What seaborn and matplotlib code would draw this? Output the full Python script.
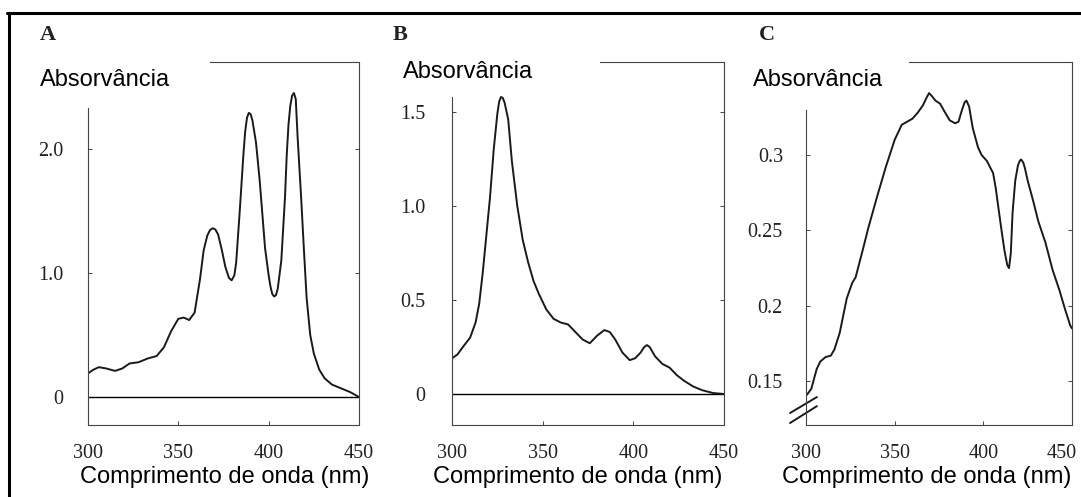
import numpy as np
import pandas as pd
import matplotlib
matplotlib.use("Agg")
import matplotlib.pyplot as plt
from matplotlib.lines import Line2D
from matplotlib.transforms import ScaledTranslation
import seaborn as sns

# ---------------- data ----------------
wl_a = [300, 303, 306, 310, 315, 319, 323, 328, 333, 338, 342, 346, 350, 353, 356,
        359, 362, 364, 366, 367.5, 369, 370.5, 372, 374, 376, 378, 379.5, 381, 382, 384, 386, 387, 388, 389,
        390, 391, 393, 395, 398, 400, 401, 402, 403, 404, 405, 407, 409, 410, 411, 412, 413, 414, 415, 416,
        418, 419.5, 421, 423, 425, 428, 431, 435, 440, 445, 450]
abs_a = [0.19, 0.22, 0.24, 0.23, 0.21, 0.23, 0.27, 0.28, 0.31, 0.33, 0.40, 0.53, 0.63, 0.64, 0.62,
         0.68, 0.95, 1.18, 1.30, 1.345, 1.36, 1.35, 1.31, 1.19, 1.05, 0.96, 0.94, 0.98, 1.08, 1.50, 1.95, 2.14, 2.25, 2.29,
         2.28, 2.23, 2.05, 1.75, 1.20, 0.98, 0.89, 0.83, 0.81, 0.82, 0.87, 1.10, 1.60, 1.95, 2.20, 2.35, 2.43, 2.45, 2.40, 2.10,
         1.60, 1.19, 0.80, 0.50, 0.35, 0.22, 0.15, 0.10, 0.07, 0.04, 0.0]

wl_b = [300, 303, 306, 310, 313, 315, 317, 319, 321, 323, 325, 326, 327, 328, 329, 331, 333,
        336, 339, 342, 345, 348, 352, 356, 360, 364, 368, 372, 376, 380, 384, 387,
        390, 394, 398, 401, 404, 406, 407.5, 409, 412, 416, 420, 424, 428, 433, 438, 444, 450]
abs_b = [0.19, 0.21, 0.25, 0.30, 0.38, 0.48, 0.65, 0.85, 1.05, 1.30, 1.49, 1.555, 1.58, 1.575, 1.55, 1.46, 1.24,
         1.00, 0.82, 0.70, 0.60, 0.53, 0.45, 0.40, 0.38, 0.37, 0.33, 0.29, 0.27, 0.31, 0.34, 0.33,
         0.29, 0.22, 0.18, 0.19, 0.22, 0.25, 0.26, 0.25, 0.20, 0.16, 0.14, 0.10, 0.07, 0.04, 0.02, 0.005, 0.0]

wl_c = [300.5, 303, 306, 308, 311, 314, 316, 319, 323, 326, 328, 332, 335, 340, 345,
        350, 354, 357, 360, 363, 366, 368, 369.4, 371, 373, 375.6, 378, 381, 384, 386, 388, 389.5,
        390.5, 392, 394, 397, 399, 402, 405.5, 407, 408.5, 410.5, 412, 413.5, 414.5, 415.5, 416.5,
        418, 419.5, 420.5, 421.3, 422.5, 423.5, 425, 428, 431, 435, 439, 443, 446, 449, 450]
abs_c = [0.141, 0.145, 0.158, 0.163, 0.166, 0.167, 0.171, 0.182, 0.205, 0.215, 0.219, 0.237, 0.251, 0.272, 0.292,
         0.310, 0.320, 0.322, 0.324, 0.328, 0.333, 0.338, 0.341, 0.339, 0.336, 0.334, 0.329, 0.323, 0.321, 0.322, 0.330, 0.335,
         0.336, 0.332, 0.318, 0.305, 0.300, 0.296, 0.288, 0.278, 0.265, 0.248, 0.236, 0.227, 0.225, 0.235, 0.262,
         0.283, 0.293, 0.296, 0.297, 0.295, 0.291, 0.283, 0.270, 0.256, 0.242, 0.224, 0.210, 0.198, 0.187, 0.185]

panel_letters = ["A", "B", "C"]
x_ticks = [300, 350, 400, 450]
y_ticks_a = [0, 1.0, 2.0]
y_ticklabels_a = ["0", "1.0", "2.0"]
y_ticks_b = [0, 0.5, 1.0, 1.5]
y_ticklabels_b = ["0", "0.5", "1.0", "1.5"]
y_ticks_c = [0.15, 0.2, 0.25, 0.3]
y_ticklabels_c = ["0.15", "0.2", "0.25", "0.3"]
ylabel_text = "Absorvância"
xlabel_text = "Comprimento de onda (nm)"

# ---------------- style ----------------
sns.set_theme(style="ticks")
plt.rcParams["font.family"] = ["Liberation Sans", "DejaVu Sans"]
plt.rcParams["axes.linewidth"] = 0.8

W, H = 1081, 497
fig = plt.figure(figsize=(W / 100, H / 100), dpi=100)
fig.patch.set_facecolor("white")


def ax_rect(x0, x1, y0=62, y1=425):
    return [x0 / W, 1 - y1 / H, (x1 - x0) / W, (y1 - y0) / H]


panels = [
    dict(rect=ax_rect(88, 359), wl=wl_a, ab=abs_a, ylim=(-0.226, 2.70),
         yt=y_ticks_a, ytl=y_ticklabels_a, zero=True, top_from=367.5, left_to=2.33,
         ypad=18, letter_x=-0.177, ylab=(-0.177, 0.950), xlab=0.505, last_shift=0),
    dict(rect=ax_rect(452, 724), wl=wl_b, ab=abs_b, ylim=(-0.165, 1.766),
         yt=y_ticks_b, ytl=y_ticklabels_b, zero=True, top_from=381.6, left_to=1.58,
         ypad=19.4, letter_x=-0.217, ylab=(-0.180, 0.972), xlab=0.463, last_shift=0),
    dict(rect=ax_rect(806, 1072), wl=wl_c, ab=abs_c, ylim=(0.121, 0.3616),
         yt=y_ticks_c, ytl=y_ticklabels_c, zero=False, top_from=358, left_to=0.33,
         ypad=16.6, letter_x=-0.177, ylab=(-0.199, 0.950), xlab=0.455, last_shift=-10),
]

spine_col = "#444444"
for letter, p in zip(panel_letters, panels):
    ax = fig.add_axes(p["rect"])
    df = pd.DataFrame({"wl": p["wl"], "abs": p["ab"]})
    sns.lineplot(data=df, x="wl", y="abs", ax=ax, color="#1a1a1a", lw=1.4,
                 sort=False, estimator=None)
    for ln in ax.lines:
        ln.set_solid_joinstyle("round")
    if p["zero"]:
        ax.axhline(0, color="black", lw=1.0, zorder=1)
    ax.set_xlim(300, 450)
    ax.set_ylim(*p["ylim"])
    ax.set_xticks(x_ticks)
    ax.set_xticklabels([str(t) for t in x_ticks], fontfamily="Liberation Serif",
                       fontsize=14.5, color="#222222")
    ax.set_yticks(p["yt"])
    ax.set_yticklabels(p["ytl"], fontfamily="Liberation Serif", fontsize=14.5,
                       color="#222222")
    ax.tick_params(axis="both", direction="in", length=3, width=0.7, color=spine_col,
                   right=True, top=False)
    ax.tick_params(axis="y", pad=p["ypad"])
    ax.tick_params(axis="x", pad=14)
    if p["last_shift"]:
        lab = ax.get_xticklabels()[-1]
        lab.set_transform(lab.get_transform() +
                          ScaledTranslation(p["last_shift"] / 100, 0, fig.dpi_scale_trans))
    for s in ax.spines.values():
        s.set_visible(True)
        s.set_color(spine_col)
        s.set_linewidth(0.8)
    ax.spines["top"].set_bounds(p["top_from"], 450)
    ax.spines["left"].set_bounds(p["ylim"][0], p["left_to"])
    ax.set_xlabel(xlabel_text, fontsize=17, color="black")
    ax.xaxis.set_label_coords(p["xlab"], -0.143)
    ax.xaxis.label.set_va("center")
    ax.set_ylabel(ylabel_text, fontsize=17, rotation=0, ha="left", va="center",
                  color="black")
    ax.yaxis.set_label_coords(*p["ylab"])
    ax.text(p["letter_x"], 1.074, letter, transform=ax.transAxes, fontsize=16,
            fontweight="bold", fontfamily="Liberation Serif", ha="left", va="center",
            color="#222222")
    ax.set_facecolor("white")
    if letter == "C":
        # axis-break marks
        for (x0, y0, x1, y1) in [(-0.06, 0.033, 0.041, 0.077), (-0.06, 0.0055, 0.041, 0.052)]:
            ax.plot([x0, x1], [y0, y1], transform=ax.transAxes, color="#1a1a1a",
                    lw=1.4, clip_on=False)

# outer frame (left and top edges)
fig.add_artist(Line2D([8.5 / W, 8.5 / W], [0, 1 - 12.5 / H], transform=fig.transFigure,
                      color="black", lw=2.2))
fig.add_artist(Line2D([7.5 / W, 1], [1 - 12.5 / H, 1 - 12.5 / H], transform=fig.transFigure,
                      color="black", lw=2.2))

fig.savefig("out.png", dpi=100)
